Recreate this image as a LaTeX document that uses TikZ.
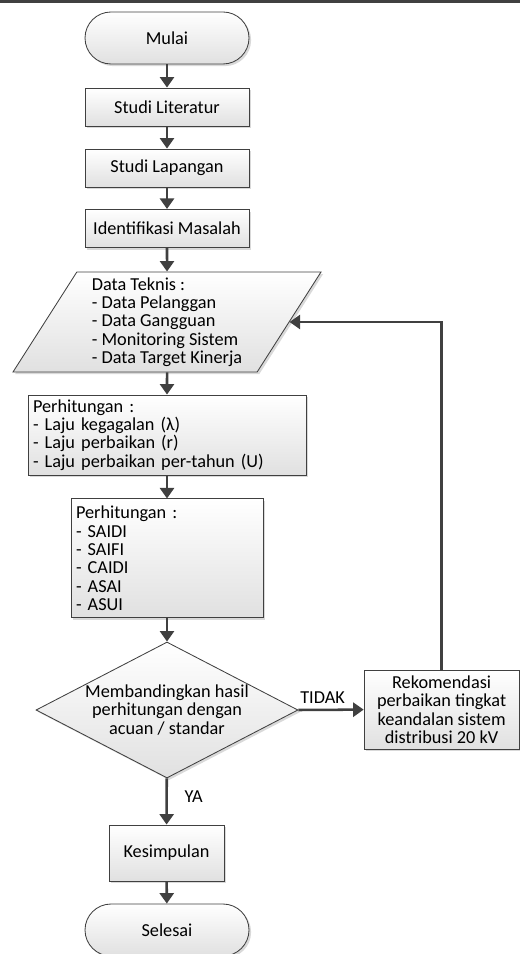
\documentclass[tikz,border=0pt]{standalone}
\usepackage{fontspec}
\setmainfont{Carlito}
\usetikzlibrary{shapes.geometric,shadows,arrows.meta}
\definecolor{garis}{HTML}{404040}

\begin{document}
\begin{tikzpicture}[>={Triangle[length=7.5pt,width=10pt]}, line width=0.6pt,
        font=\fontsize{13}{13}\selectfont,
        kotak/.style={draw=garis, top color=white, bottom color=black!12,
            drop shadow={shadow xshift=1.5pt, shadow yshift=-1.5pt, fill=black, opacity=0.15}},
        proses/.style={kotak, rectangle, minimum width=4.1cm, minimum height=0.95cm},
        terminal/.style={kotak, rectangle, rounded corners=0.65cm, minimum width=4.1cm, minimum height=1.3cm},
        panah/.style={->, draw=garis, line width=1.8pt}]
        \useasboundingbox (0, 0) rectangle (13, -23.85);
        \draw[garis, line width=2pt] (0, -0.035) -- (13, -0.035);
        \node[terminal] (mulai) at (4.175, -0.95) {Mulai};
        \node[proses] (literatur) at (4.175, -2.675) {Studi Literatur};
        \node[proses] (lapangan) at (4.175, -4.2) {Studi Lapangan};
        \node[proses] (masalah) at (4.175, -5.71) {Identifikasi Masalah};
        \node[kotak, trapezium, trapezium left angle=57, trapezium right angle=123,
            trapezium stretches body, minimum width=7.7cm, minimum height=2.5cm,
            align=left] (data) at (4.175, -8.05)
            {Data Teknis :\\- Data Pelanggan\\- Data Gangguan\\- Monitoring Sistem\\- Data Target Kinerja};
        \node[proses, minimum width=6.95cm, minimum height=2cm, text width=6.7cm, align=left] (hitung1) at (4.175, -10.875)
            {Perhitungan :\\- Laju kegagalan (λ)\\- Laju perbaikan (r)\\- Laju perbaikan per-tahun (U)};
        \node[proses, minimum width=4.8cm, minimum height=2.975cm, text width=4.55cm, align=left] (hitung2) at (4.175, -13.96)
            {Perhitungan :\\- SAIDI\\- SAIFI\\- CAIDI\\- ASAI\\- ASUI};
        \node[kotak, diamond, aspect=1.93, minimum width=6.55cm, minimum height=3.4cm, inner sep=0pt, align=center] (banding) at (4.175, -17.75)
            {Membandingkan hasil\\perhitungan dengan\\acuan / standar};
        \node[proses, minimum width=3.875cm, minimum height=1.975cm, align=center] (rekomendasi) at (11.04, -17.74)
            {Rekomendasi\\perbaikan tingkat\\keandalan sistem\\distribusi 20 kV};
        \node[proses, minimum width=2.875cm, minimum height=1.4cm] (simpulan) at (4.1625, -21.325) {Kesimpulan};
        \node[terminal] (selesai) at (4.175, -23.25) {Selesai};
        \draw[panah] (mulai) -- (literatur);
        \draw[panah] (literatur) -- (lapangan);
        \draw[panah] (lapangan) -- (masalah);
        \draw[panah] (masalah) -- (data);
        \draw[panah] (data) -- (hitung1);
        \draw[panah] (hitung1) -- (hitung2);
        \draw[panah] (hitung2) -- (banding);
        \draw[panah] (banding.east) -- node[above, pos=0.37] {TIDAK} (rekomendasi.west);
        \draw[panah] (banding) -- node[right, pos=0.4, xshift=0.3cm] {YA} (simpulan);
        \draw[panah] (simpulan) -- (selesai);
        \draw[panah] (rekomendasi.north) |- (data.east);
    \end{tikzpicture}
\end{document}
